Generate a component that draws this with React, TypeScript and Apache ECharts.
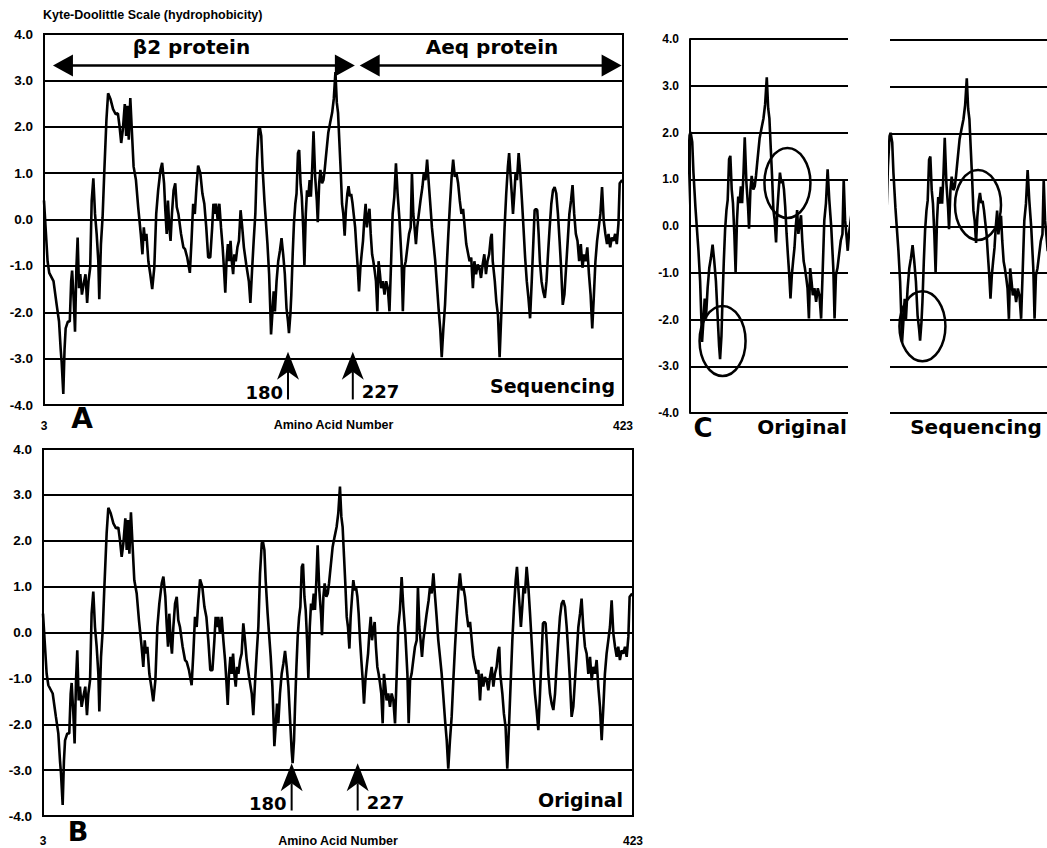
import React, { useEffect, useRef } from 'react';
import * as echarts from 'echarts';

// Kyte-Doolittle hydropathy profile, [residue number, score]
const originalProfile: [number, number][] = [
  [3.0, 0.41], [5.6, -0.9], [6.8, -1.15], [9.9, -1.33], [12.2, -1.84], [13.9, -2.2], [15.1, -2.8], [15.8, -3.07], [17.0, -3.76], [17.9, -2.8],
  [18.7, -2.35], [20.3, -2.2], [21.7, -2.2], [22.7, -1.33], [23.4, -1.1], [24.6, -1.77], [25.5, -2.42], [26.5, -1.04], [27.4, -0.39], [28.4, -1.48],
  [29.3, -1.18], [30.5, -1.62], [31.7, -1.4], [33.1, -1.18], [34.3, -1.8], [35.3, -1.33], [36.5, -1.04], [37.6, 0.41], [38.8, 0.89], [40.0, 0.12],
  [41.2, -0.31], [42.4, -0.9], [43.1, -1.72], [44.3, -0.53], [45.5, 0.05], [46.7, 1.0], [48.3, 2.16], [49.5, 2.72], [51.2, 2.6], [53.1, 2.38],
  [55.0, 2.27], [56.6, 2.29], [57.8, 2.01], [59.0, 1.65], [60.2, 1.94], [61.6, 2.49], [62.6, 1.8], [63.5, 2.45], [64.5, 1.72], [65.6, 2.62],
  [66.8, 1.87], [68.0, 1.14], [69.7, 0.85], [71.3, 0.27], [73.2, -0.31], [74.4, -0.75], [75.4, -0.17], [76.3, -0.46], [77.3, -0.31], [78.7, -0.9],
  [80.1, -1.18], [81.5, -1.5], [83.0, -1.04], [84.4, 0.12], [85.8, 0.63], [87.5, 1.07], [88.7, 1.22], [90.1, 0.78], [91.0, 0.2], [92.0, -0.31],
  [92.9, 0.41], [93.9, -0.17], [94.8, -0.46], [95.8, 0.12], [97.0, 0.63], [98.2, 0.78], [99.3, 0.27], [100.5, 0.12], [102.4, -0.31], [104.1, -0.6],
  [105.3, -0.64], [106.9, -0.82], [108.8, -1.15], [110.0, -0.46], [111.2, 0.34], [112.4, 0.12], [113.6, 0.7], [114.8, 1.16], [116.4, 1.0], [117.9, 0.56],
  [119.3, 0.34], [120.7, -0.17], [122.1, -0.82], [123.6, -0.82], [125.0, -0.17], [125.9, 0.34], [126.9, 0.12], [127.8, 0.34], [129.0, -0.02], [130.2, 0.34],
  [131.4, -0.17], [132.6, -0.6], [133.5, -1.04], [134.5, -1.58], [135.4, -0.9], [136.4, -0.53], [137.3, -0.9], [138.3, -0.46], [139.2, -0.9], [140.2, -1.18],
  [141.1, -0.75], [142.1, -0.9], [143.3, -0.6], [144.4, -0.46], [145.6, 0.2], [146.8, -0.17], [148.0, -0.6], [149.7, -0.97], [151.6, -1.33], [152.7, -1.8],
  [153.9, -1.11], [155.1, -0.46], [156.3, 0.12], [157.5, 1.29], [158.7, 1.94], [159.4, 2.01], [160.6, 1.8], [161.5, 1.14], [162.9, 0.41], [163.9, -0.02],
  [165.1, -0.53], [166.3, -1.18], [167.2, -1.98], [167.7, -2.48], [168.6, -2.06], [169.6, -1.55], [170.5, -1.98], [171.7, -1.33], [172.9, -0.9], [174.1, -0.68],
  [175.3, -0.4], [176.5, -0.75], [177.7, -1.18], [178.9, -1.91], [180.0, -2.57], [180.7, -2.85], [181.7, -2.35], [182.4, -1.62], [183.4, -0.75], [184.3, -0.09],
  [185.3, 0.34], [186.2, 0.56], [187.2, 1.43], [188.1, 1.5], [189.1, 0.78], [190.0, 0.49], [191.0, -0.17], [191.9, -0.99], [192.9, 0.12], [193.8, 0.63],
  [194.7, 0.49], [195.7, 0.85], [196.6, 0.49], [197.6, 1.14], [198.5, 1.9], [199.7, 0.92], [200.9, 0.41], [201.6, -0.06], [202.6, 0.78], [203.5, 1.07],
  [204.7, 0.78], [205.7, 0.85], [206.6, 1.07], [207.3, 1.29], [209.2, 1.87], [210.6, 2.09], [212.0, 2.3], [213.2, 2.6], [214.4, 3.18], [215.4, 2.52],
  [216.3, 2.3], [217.3, 1.65], [218.2, 1.07], [219.2, 0.34], [220.1, 0.12], [221.1, -0.35], [222.0, 0.34], [223.0, 0.78], [223.9, 1.14], [224.9, 0.92],
  [225.8, 1.0], [226.8, 0.78], [227.7, 0.41], [228.7, -0.17], [229.6, -0.6], [230.6, -1.04], [231.5, -1.55], [232.5, -1.04], [233.4, -0.75], [234.4, -0.46],
  [235.3, -0.02], [236.3, 0.34], [237.2, -0.17], [238.1, 0.05], [239.1, 0.23], [240.0, -0.31], [241.0, -0.75], [241.9, -0.9], [242.9, -1.11], [243.8, -1.33],
  [244.8, -1.98], [245.7, -0.9], [246.7, -1.18], [247.6, -1.48], [248.8, -1.33], [250.0, -1.62], [251.2, -1.33], [252.4, -1.48], [253.6, -1.98], [254.8, -0.9],
  [255.9, 0.12], [257.1, 0.49], [258.3, 1.21], [259.5, 0.56], [260.9, -0.02], [262.4, -0.9], [263.3, -1.98], [264.3, -1.04], [265.4, -0.9], [266.6, -0.6],
  [267.8, -0.31], [269.0, -0.17], [269.9, 1.0], [270.9, 0.12], [271.8, -0.17], [272.8, -0.53], [273.7, -0.17], [274.9, 0.12], [276.1, 0.41], [277.5, 0.7],
  [278.5, 1.0], [279.7, 0.85], [280.9, 1.29], [282.1, 0.78], [283.2, 0.34], [284.4, -0.17], [285.6, -0.53], [286.8, -0.9], [288.0, -1.4], [289.2, -1.91],
  [290.4, -2.35], [291.5, -2.97], [292.7, -2.35], [293.9, -1.84], [295.1, -1.04], [296.3, -0.31], [297.5, 0.34], [298.7, 0.92], [299.8, 1.29], [301.0, 0.92],
  [302.2, 1.0], [303.4, 0.78], [304.6, 0.41], [305.8, 0.12], [307.0, 0.23], [308.2, -0.17], [309.3, -0.53], [311.7, -0.9], [312.9, -0.82], [314.1, -1.48],
  [315.2, -0.9], [316.4, -1.18], [317.6, -0.97], [318.8, -1.04], [320.0, -1.26], [321.2, -0.97], [322.4, -0.75], [323.6, -1.18], [324.7, -0.9], [325.9, -0.75],
  [327.1, -0.39], [327.8, -0.31], [328.5, -0.9], [330.0, -1.33], [331.1, -1.77], [332.3, -2.06], [333.5, -2.97], [334.7, -2.06], [335.9, -1.11], [337.1, -0.17],
  [338.3, 0.56], [339.5, 1.14], [340.4, 1.43], [341.3, 1.0], [342.3, 0.56], [343.2, 0.12], [344.2, 0.56], [345.1, 1.0], [346.1, 0.85], [347.3, 1.43],
  [348.5, 1.0], [349.7, 0.41], [350.8, -0.17], [352.0, -0.82], [353.2, -1.33], [354.4, -1.69], [355.6, -2.13], [356.8, -1.33], [358.0, -0.46], [358.9, 0.2],
  [359.9, 0.23], [360.8, 0.2], [361.8, -0.31], [362.7, -0.9], [363.9, -1.33], [365.1, -1.55], [366.3, -1.69], [367.5, -1.33], [368.6, -0.75], [369.8, -0.17],
  [371.0, 0.34], [372.2, 0.63], [373.4, 0.7], [374.6, 0.56], [375.8, 0.12], [377.0, -0.46], [378.1, -1.04], [379.3, -1.84], [380.5, -1.62], [381.7, -1.04],
  [382.9, -0.46], [384.1, 0.12], [385.3, 0.41], [386.4, 0.74], [387.6, 0.12], [388.8, -0.31], [390.0, -0.46], [391.2, -0.9], [392.4, -0.53], [393.6, -1.04],
  [394.7, -0.75], [395.9, -0.9], [397.1, -0.6], [398.3, -1.18], [399.5, -1.62], [400.7, -2.35], [401.9, -1.62], [403.0, -0.9], [404.2, -0.46], [405.4, -0.17],
  [406.6, 0.12], [407.8, 0.7], [409.0, -0.02], [410.2, -0.31], [411.4, -0.53], [412.5, -0.31], [413.7, -0.6], [414.9, -0.39], [416.1, -0.46], [417.3, -0.31],
  [418.5, -0.53], [419.7, -0.09], [420.6, 0.78], [422.4, 0.85],
];

// Scores that differ in the sequenced construct, [residue number, score]
const sequencingChanges: [number, number][] = [
  [180.0, -2.2], [180.7, -2.45], [181.7, -2.05],
  [222.0, 0.2], [223.0, 0.55], [223.9, 0.72], [224.9, 0.5], [225.8, 0.55], [226.8, 0.35], [227.7, 0.1],
];

const fullRange = [3, 423];
const detailRange = [159, 273];
const scoreTicks = [-4, -3, -2, -1, 0, 1, 2, 3, 4];

const proteinSpans = [
  { name: 'β2 protein', from: 9.5, to: 228.5, labelAt: 110 },
  { name: 'Aeq protein', from: 232, to: 422, labelAt: 328 },
];

const residueMarkers = [
  { residue: 180, label: '180', side: 'left' },
  { residue: 227, label: '227', side: 'right' },
];

// circled regions of the detail panels: [residue, score]
const originalCircles: [number, number][] = [[182.5, -2.46], [229.3, 0.92]];
const sequencingCircles: [number, number][] = [[182.4, -2.14], [222.5, 0.46]];

const changeMap = new Map(sequencingChanges.map(([r, v]) => [r, v]));
const sequencingProfile: [number, number][] = originalProfile.map(([r, v]) => [r, changeMap.has(r) ? (changeMap.get(r) as number) : v]);

const NARROW = "'Liberation Sans Narrow', 'Arial Narrow', 'Liberation Sans', Arial, sans-serif";
const HEAVY = "'DejaVu Sans', Verdana, sans-serif";

function yAxis(gridIndex: number, showLabels: boolean, fontSize: number, showLine: boolean) {
  return {
    type: 'value',
    gridIndex,
    min: scoreTicks[0],
    max: scoreTicks[scoreTicks.length - 1],
    interval: 1,
    axisLine: { show: showLine, lineStyle: { color: '#000', width: 2 } },
    axisTick: { show: false },
    splitLine: { show: true, lineStyle: { color: '#000', width: 2 } },
    axisLabel: {
      show: showLabels,
      formatter: (v: number) => v.toFixed(1),
      color: '#000',
      fontWeight: 'bold',
      fontSize,
      fontFamily: NARROW,
      margin: 11,
    },
  };
}

function fullXAxis(gridIndex: number, labelMargin: number, nameGap: number) {
  return {
    type: 'value',
    gridIndex,
    min: fullRange[0],
    max: fullRange[1],
    axisLine: { show: false },
    axisTick: { show: false },
    splitLine: { show: false },
    axisLabel: {
      formatter: (v: number) => (v === fullRange[0] || v === fullRange[1] ? String(v) : ''),
      color: '#000',
      fontWeight: 'bold',
      fontSize: 12,
      fontFamily: NARROW,
      margin: labelMargin,
    },
    name: 'Amino Acid Number',
    nameLocation: 'middle',
    nameGap,
    nameMoveOverlap: false,
    nameTextStyle: { color: '#000', fontWeight: 'bold', fontSize: 12.5, fontFamily: NARROW },
  };
}

function detailXAxis(gridIndex: number) {
  return {
    type: 'value',
    gridIndex,
    min: detailRange[0],
    max: detailRange[1],
    show: false,
    splitLine: { show: false },
  };
}

function profileSeries(index: number, data: [number, number][]) {
  return {
    type: 'line',
    xAxisIndex: index,
    yAxisIndex: index,
    data,
    showSymbol: false,
    symbol: 'none',
    clip: true,
    silent: true,
    lineStyle: { color: '#000', width: 2.6 },
    z: 3,
  };
}

export default function App() {
  const ref = useRef<HTMLDivElement>(null);

  useEffect(() => {
    if (!ref.current) return;
    const chart = echarts.init(ref.current, null, { renderer: 'svg' });
    const frame = { show: true, borderColor: '#000', borderWidth: 2, backgroundColor: 'transparent' };
    const free = { outerBoundsMode: 'none', containLabel: false };
    chart.setOption({
      animation: false,
      backgroundColor: '#fff',
      grid: [
        { left: 44, top: 34, width: 579, height: 371, ...frame, ...free },
        { left: 43, top: 449, width: 590, height: 367, ...frame, ...free },
        { left: 690, top: 39, width: 158, height: 374, ...free },
        { left: 890, top: 40, width: 158, height: 373, ...free },
      ],
      xAxis: [fullXAxis(0, 15, 13), fullXAxis(1, 19, 18), detailXAxis(2), detailXAxis(3)],
      yAxis: [yAxis(0, true, 13.5, false), yAxis(1, true, 13.5, false), yAxis(2, true, 12, true), yAxis(3, false, 12, false)],
      series: [
        profileSeries(0, sequencingProfile),
        profileSeries(1, originalProfile),
        profileSeries(2, originalProfile),
        profileSeries(3, sequencingProfile),
      ],
    });

    const px = (gi: number, x: number, y: number) =>
      chart.convertToPixel({ gridIndex: gi } as any, [x, y]) as unknown as number[];
    const text = (x: number, y: number, t: string, size: number, family: string, align: string) => ({
      type: 'text',
      x,
      y,
      silent: true,
      style: { text: t, fill: '#000', fontSize: size, fontWeight: 'bold', fontFamily: family, align, verticalAlign: 'middle' },
    });
    const line = (x1: number, y1: number, x2: number, y2: number, w: number) => ({
      type: 'line',
      silent: true,
      shape: { x1, y1, x2, y2 },
      style: { stroke: '#000', lineWidth: w },
    });
    const poly = (points: number[][]) => ({ type: 'polygon', silent: true, shape: { points }, style: { fill: '#000' } });

    const els: any[] = [];
    els.push(text(43, 15, 'Kyte-Doolittle Scale (hydrophobicity)', 12.5, NARROW, 'left'));

    // protein extents across the top of the sequencing panel
    proteinSpans.forEach((s) => {
      const [x1, y] = px(0, s.from, 3.32);
      const [x2] = px(0, s.to, 3.32);
      els.push(line(x1 + 16, y, x2 - 16, y, 2.5));
      els.push(poly([[x1, y], [x1 + 20, y - 11], [x1 + 20, y + 11]]));
      els.push(poly([[x2, y], [x2 - 20, y - 11], [x2 - 20, y + 11]]));
      const [lx, ly] = px(0, s.labelAt, 3.73);
      els.push(text(lx, ly, s.name, 20, HEAVY, 'center'));
    });

    // residue markers in both full-length panels
    [0, 1].forEach((gi) => {
      residueMarkers.forEach((m) => {
        const [x, ya] = px(gi, m.residue, -2.85);
        const [, yb] = px(gi, m.residue, -3.88);
        els.push(poly([[x, ya], [x + 11, ya + 28], [x, ya + 20], [x - 11, ya + 28]]));
        els.push(line(x, ya + 20, x, yb, 2));
        if (m.side === 'left') els.push(text(x - 5, yb - 7, m.label, 18, HEAVY, 'right'));
        else els.push(text(x + 9, yb - 8, m.label, 18, HEAVY, 'left'));
      });
    });

    // circled regions in the detail panels
    const ring = (gi: number, c: [number, number]) => {
      const [cx, cy] = px(gi, c[0], c[1]);
      return { type: 'ellipse', silent: true, shape: { cx, cy, rx: 23, ry: 35 }, style: { fill: 'none', stroke: '#000', lineWidth: 2.5 } };
    };
    originalCircles.forEach((c) => els.push(ring(2, c)));
    sequencingCircles.forEach((c) => els.push(ring(3, c)));

    // panel captions
    els.push(text(615, 386, 'Sequencing', 19, HEAVY, 'right'));
    els.push(text(623, 800, 'Original', 19, HEAVY, 'right'));
    els.push(text(82, 418, 'A', 28, HEAVY, 'center'));
    els.push(text(78, 831, 'B', 27, HEAVY, 'center'));
    els.push(text(703, 428, 'C', 26, HEAVY, 'center'));
    els.push(text(802, 427, 'Original', 20, HEAVY, 'center'));
    els.push(text(976, 427, 'Sequencing', 20, HEAVY, 'center'));

    chart.setOption({ graphic: els });
    return () => chart.dispose();
  }, []);

  return <div ref={ref} style={{ position: 'absolute', left: 0, top: 0, width: 1047, height: 848 }} />;
}
